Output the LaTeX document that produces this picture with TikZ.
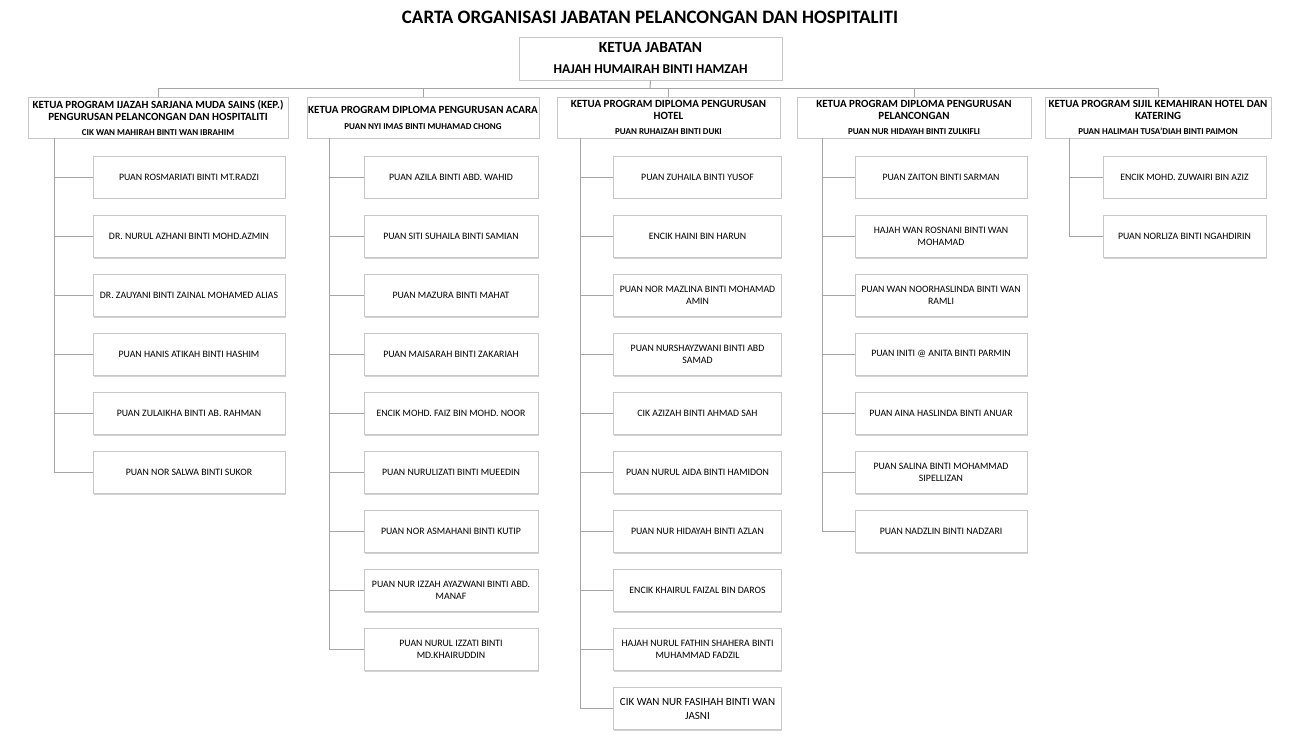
\documentclass[tikz,border=0pt]{standalone}
\usepackage{fontspec}
\setmainfont{Carlito}
\usetikzlibrary{shadows}
\definecolor{lin}{RGB}{165,165,165}
\definecolor{bord}{RGB}{200,200,200}
\begin{document}
\begin{tikzpicture}[x=1pt,y=-1pt,
  box/.style={draw=bord, fill=white, line width=0.9pt, align=center, inner sep=1pt,
    drop shadow={shadow xshift=0.8pt, shadow yshift=-1.4pt, opacity=0.35}},
  kid/.style={box, minimum height=42pt, font=\fontsize{9.8}{12}\selectfont},
  hdr/.style={box, minimum height=41pt},
  conn/.style={draw=lin, line width=1pt}]
\useasboundingbox[fill=white] (0,0) rectangle (1300,739);

\node[font=\bfseries\fontsize{19}{22}\selectfont] (title) at (650,17) {CARTA ORGANISASI JABATAN PELANCONGAN DAN HOSPITALITI};

\node[box, minimum width=263pt, minimum height=43pt] (top) at (650.5,58.5)
  {\bfseries\fontsize{15.5}{18}\selectfont KETUA JABATAN\\[9pt]\bfseries\fontsize{13.5}{15}\selectfont HAJAH HUMAIRAH BINTI HAMZAH};

\coordinate (bus) at (650,88);

\node[hdr, minimum width=260pt] (h1) at (158,117.5)
  {\bfseries\fontsize{11}{13}\selectfont KETUA PROGRAM IJAZAH SARJANA MUDA SAINS (KEP.)\\\bfseries\fontsize{11}{13}\selectfont PENGURUSAN PELANCONGAN DAN HOSPITALITI\\[3pt]\bfseries\fontsize{9}{10}\selectfont CIK WAN MAHIRAH BINTI WAN IBRAHIM};
\node[hdr, minimum width=232pt] (h2) at (423,117.5)
  {\bfseries\fontsize{11}{13}\selectfont KETUA PROGRAM DIPLOMA PENGURUSAN ACARA\\[4pt]\bfseries\fontsize{9}{10}\selectfont PUAN NYI IMAS BINTI MUHAMAD CHONG};
\node[hdr, minimum width=223pt] (h3) at (668.5,117.5)
  {\bfseries\fontsize{11}{13}\selectfont KETUA PROGRAM DIPLOMA PENGURUSAN\\\bfseries\fontsize{11}{13}\selectfont HOTEL\\[3pt]\bfseries\fontsize{9}{10}\selectfont PUAN RUHAIZAH BINTI DUKI};
\node[hdr, minimum width=234pt] (h4) at (914,117.5)
  {\bfseries\fontsize{11}{13}\selectfont KETUA PROGRAM DIPLOMA PENGURUSAN\\\bfseries\fontsize{11}{13}\selectfont PELANCONGAN\\[3pt]\bfseries\fontsize{9}{10}\selectfont PUAN NUR HIDAYAH BINTI ZULKIFLI};
\node[hdr, minimum width=226pt] (h5) at (1158,117.5)
  {\bfseries\fontsize{11}{13}\selectfont KETUA PROGRAM SIJIL KEMAHIRAN HOTEL DAN\\\bfseries\fontsize{11}{13}\selectfont KATERING\\[3pt]\bfseries\fontsize{9}{10}\selectfont PUAN HALIMAH TUSA’DIAH BINTI PAIMON};

\draw[conn] (top.south) -- (bus);
\draw[conn] (h1.north) -- (h1.north |- bus) -- (h5.north |- bus) -- (h5.north);
\foreach \k in {2,3,4} \draw[conn] (h\k.north) -- (h\k.north |- bus);

\coordinate (v1) at (54,138);
\coordinate (v2) at (329,138);
\coordinate (v3) at (580,138);
\coordinate (v4) at (822,138);
\coordinate (v5) at (1069,138);

\foreach \t [count=\i] in {PUAN ROSMARIATI BINTI MT.RADZI, DR. NURUL AZHANI BINTI MOHD.AZMIN, DR. ZAUYANI BINTI ZAINAL MOHAMED ALIAS, PUAN HANIS ATIKAH BINTI HASHIM, PUAN ZULAIKHA BINTI AB. RAHMAN, PUAN NOR SALWA BINTI SUKOR}{
  \node[kid, minimum width=192pt] (a\i) at (189,{177+59.1*(\i-1)}) {\t};
  \draw[conn] (v1) |- (a\i.west);
}
\foreach \t [count=\i] in {PUAN AZILA BINTI ABD. WAHID, PUAN SITI SUHAILA BINTI SAMIAN, PUAN MAZURA BINTI MAHAT, PUAN MAISARAH BINTI ZAKARIAH, ENCIK MOHD. FAIZ BIN MOHD. NOOR, PUAN NURULIZATI BINTI MUEEDIN, PUAN NOR ASMAHANI BINTI KUTIP, {PUAN NUR IZZAH AYAZWANI BINTI ABD.\\MANAF}, {PUAN NURUL IZZATI BINTI\\MD.KHAIRUDDIN}}{
  \node[kid, minimum width=174pt] (b\i) at (451,{177+59.1*(\i-1)}) {\t};
  \draw[conn] (v2) |- (b\i.west);
}
\foreach \t [count=\i] in {PUAN ZUHAILA BINTI YUSOF, ENCIK HAINI BIN HARUN, {PUAN NOR MAZLINA BINTI MOHAMAD\\AMIN}, {PUAN NURSHAYZWANI BINTI ABD\\SAMAD}, CIK AZIZAH BINTI AHMAD SAH, PUAN NURUL AIDA BINTI HAMIDON, PUAN NUR HIDAYAH BINTI AZLAN, ENCIK KHAIRUL FAIZAL BIN DAROS, {HAJAH NURUL FATHIN SHAHERA BINTI\\MUHAMMAD FADZIL}}{
  \node[kid, minimum width=168pt] (c\i) at (697.5,{177+59.1*(\i-1)}) {\t};
  \draw[conn] (v3) |- (c\i.west);
}
\node[kid, minimum width=168pt, font=\fontsize{11}{14}\selectfont] (c10) at (697.5,{177+59.1*9})
  {CIK WAN NUR FASIHAH BINTI WAN\\JASNI};
\draw[conn] (v3) |- (c10.west);
\foreach \t [count=\i] in {PUAN ZAITON BINTI SARMAN, {HAJAH WAN ROSNANI BINTI WAN\\MOHAMAD}, {PUAN WAN NOORHASLINDA BINTI WAN\\RAMLI}, PUAN INITI @ ANITA BINTI PARMIN, PUAN AINA HASLINDA BINTI ANUAR, {PUAN SALINA BINTI MOHAMMAD\\SIPELLIZAN}, PUAN NADZLIN BINTI NADZARI}{
  \node[kid, minimum width=172pt] (d\i) at (941,{177+59.1*(\i-1)}) {\t};
  \draw[conn] (v4) |- (d\i.west);
}
\foreach \t [count=\i] in {ENCIK MOHD. ZUWAIRI BIN AZIZ, PUAN NORLIZA BINTI NGAHDIRIN}{
  \node[kid, minimum width=163pt] (e\i) at (1184.5,{177+59.1*(\i-1)}) {\t};
  \draw[conn] (v5) |- (e\i.west);
}
\end{tikzpicture}
\end{document}
